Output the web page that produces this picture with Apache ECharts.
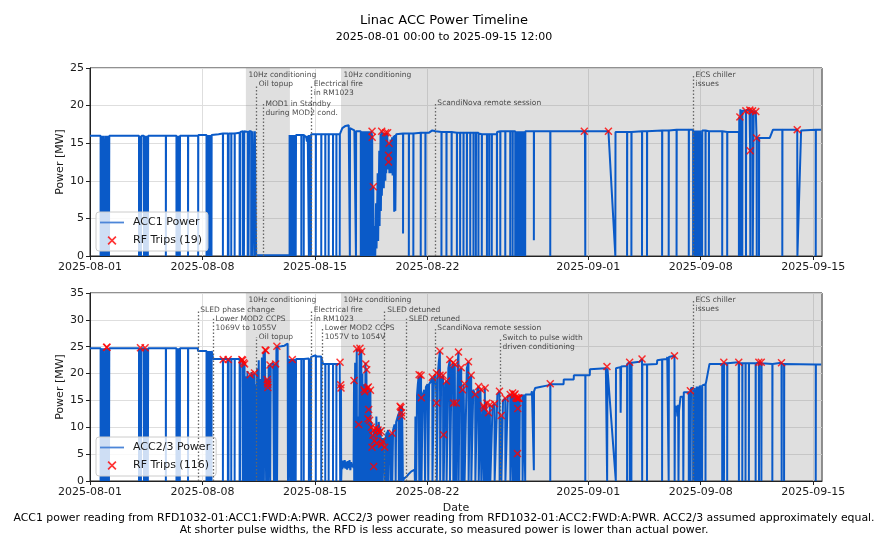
<!DOCTYPE html>
<html><head><meta charset="utf-8">
<script src="https://cdn.jsdelivr.net/npm/echarts@6/dist/echarts.min.js"></script>
<style>html,body{margin:0;padding:0;background:#fff}#c{width:877px;height:534px}</style>
</head><body><div id="c"></div>
<script>
// ---- data (time in days since 2025-08-01 00:00 UTC, power in MW) ----
const startDate = Date.UTC(2025, 7, 1);
const dayMs = 86400000;
const xTickDays = [0, 7, 14, 21, 31, 38, 45];
const xMaxDays = 45.55;
const shadedSpans = [[9.70, 12.44], [15.62, 45.55]];

const acc1Power = [
 [0,16.0],
 [0.66,16.0],[0.66,0],[0.70,16.0],[0.70,0],[0.74,16.0],[0.74,0],[0.78,16.0],[0.78,0],[0.82,16.0],[0.82,0],[0.85,16.0],
 [0.94,16.0],[0.94,0],[0.98,16.0],[0.98,0],[1.02,16.0],[1.02,0],[1.06,16.0],[1.06,0],[1.10,16.0],[1.10,0],[1.14,16.0],[1.14,0],[1.18,16.0],[1.18,0],[1.2,16.0],
 [3.05,16.0],[3.05,0],[3.09,16.0],[3.09,0],[3.13,16.0],[3.13,0],[3.17,16.0],[3.17,0],[3.21,16.0],
 [3.36,16.0],[3.36,0],[3.40,16.0],[3.40,0],[3.44,16.0],[3.44,0],[3.48,16.0],[3.48,0],[3.52,16.0],[3.52,0],[3.56,16.0],[3.56,0],[3.60,16.0],[3.60,0],[3.62,16.0],
 [4.72,16.0],[4.72,0],[4.73,16.0],
 [5.38,16.0],[5.38,0],[5.42,16.0],[5.42,0],[5.46,16.0],[5.46,0],[5.51,16.0],[5.51,0],[5.59,16.0],[5.59,0],[5.60,16.0],
 [6.10,16.0],[6.10,0],[6.11,16.0],
 [6.73,16.0],[6.73,0],[6.74,16.1],
 [7.25,16.1],[7.25,0],[7.30,16.1],[7.30,0],[7.36,16.1],[7.36,0],[7.42,16.1],[7.42,0],[7.50,16.1],[7.50,0],[7.56,16.1],[7.56,0],[7.57,16.1],
 [8.0,16.2],
 [8.27,16.3],[8.27,0],[8.28,16.3],
 [8.58,16.3],[8.58,0],[8.62,16.3],[8.62,0],[8.63,16.3],
 [8.79,16.3],[8.79,0],[8.80,16.3],
 [9.0,16.3],[9.0,0],[9.01,16.3],
 [9.31,16.4],[9.31,0],[9.35,16.4],[9.35,0],[9.36,16.5],
 [9.52,16.6],[9.52,0],[9.58,16.7],[9.58,0],[9.6,16.6],
 [9.82,16.5],[9.82,0],[9.86,16.5],[9.86,0],[9.9,16.6],
 [10.03,16.6],[10.03,0],[10.1,16.6],[10.1,0],[10.12,16.6],
 [10.24,16.6],[10.24,0],[10.26,16.6],
 [10.34,16.6],[10.34,0.1],[12.42,0.1],[12.42,16.1],
 [12.45,16.1],[12.45,0],[12.5,16.1],[12.5,0],[12.55,16.1],[12.55,0],[12.6,16.1],[12.6,0],[12.66,16.1],[12.66,0],[12.72,16.1],[12.72,0],[12.8,16.1],[12.8,0],[12.82,16.1],
 [13.15,16.1],[13.15,0],[13.16,16.1],
 [13.3,16.1],[13.3,0],[13.31,16.1],
 [13.45,15.8],[13.5,15.2],[13.55,16.0],
 [13.62,16.1],[13.62,0],[13.63,16.1],
 [13.75,16.2],[13.75,0],[13.76,16.2],
 [14.05,16.2],[14.05,0],[14.06,16.2],
 [14.39,16.2],[14.39,0],[14.4,16.2],
 [14.64,16.2],[14.64,0],[14.65,16.2],
 [14.85,16.2],[14.85,0],[14.86,16.2],
 [15.12,16.2],[15.12,0],[15.13,16.2],
 [15.33,16.2],[15.33,0],[15.34,16.2],
 [15.54,16.2],[15.54,0],[15.55,16.2],
 [15.62,16.3],[15.7,17.0],[15.8,16.8],[15.9,17.3],[16.0,17.1],[16.1,17.4],
 [16.17,17.2],[16.17,0],[16.18,17.0],
 [16.3,16.9],[16.45,16.7],
 [16.55,16.7],[16.55,0],[16.56,16.6],
 [16.85,16.6],[16.85,0],[16.88,16.6],[16.92,0],[16.95,16.6],[17.0,0],[17.03,16.6],[17.06,0],[17.09,16.6],[17.12,0],[17.15,16.6],[17.18,0],[17.21,16.6],[17.24,0],[17.27,16.6],[17.3,0],[17.33,16.6],[17.36,0],[17.39,16.6],[17.42,0],[17.45,16.6],[17.48,0],
 [17.51,16.6],[17.55,16.6],[17.56,15.8],[17.57,0],[17.63,9.2],[17.64,0],
 [17.72,4],[17.75,0],[17.8,7],[17.83,1],[17.9,11],[17.93,2],[18.0,14],[18.02,4],[18.08,16.3],[18.1,6],[18.15,16.6],[18.16,8],
 [18.25,16.4],[18.28,9],[18.35,16.3],[18.38,10],[18.4,16.4],[18.43,11],[18.5,16.4],[18.52,16.4],[18.53,11.5],[18.57,13.4],[18.58,12.5],[18.6,15.0],[18.61,15.0],[18.63,11],[18.7,15.5],[18.73,11],[18.8,15.8],[18.83,10.7],[18.9,16],[18.93,5.9],[18.97,16.1],[19.0,6],[19.05,16.2],[19.1,16.3],
 [19.48,16.3],[19.48,3],[19.49,16.3],
 [19.84,16.3],[19.84,0],[19.85,16.3],
 [20.12,16.3],[20.12,0],[20.13,16.3],
 [20.58,16.4],[20.58,0],[20.59,16.4],
 [20.87,16.4],[20.87,0],[20.88,16.4],
 [21.1,16.4],[21.3,16.7],[21.5,16.6],
 [21.87,16.5],[21.87,0],[21.88,16.5],
 [22.18,16.5],[22.18,0],[22.19,16.5],
 [22.5,16.5],[22.5,0],[22.51,16.5],
 [22.83,16.4],[22.83,0],[22.84,16.4],
 [23.03,16.4],[23.03,0],[23.04,16.4],
 [23.24,16.4],[23.24,0],[23.25,16.4],
 [23.45,16.4],[23.45,0],[23.46,16.4],
 [23.66,16.4],[23.66,0],[23.67,16.4],
 [23.86,16.4],[23.86,0],[23.87,16.4],
 [24.01,16.4],[24.01,0],[24.02,16.4],
 [24.17,16.4],[24.17,0],[24.18,16.3],
 [24.38,16.2],[24.38,0],[24.39,16.2],
 [24.7,16.2],[24.7,0],[24.71,16.2],
 [24.84,16.2],[24.84,0],[24.85,16.2],
 [25.0,16.2],[25.0,0],[25.01,16.2],
 [25.32,16.2],[25.32,0],[25.33,16.5],
 [25.53,16.6],[25.53,0],[25.54,16.6],
 [25.84,16.6],[25.84,0],[25.85,16.6],
 [26.15,16.6],[26.15,0],[26.16,16.6],
 [26.3,16.6],[26.3,0],[26.31,16.6],
 [26.46,16.6],[26.46,0],[26.47,16.6],
 [26.57,16.6],[26.57,0],[26.58,16.6],
 [26.67,16.6],[26.67,0],[26.68,16.6],
 [26.77,16.6],[26.77,0],[26.78,16.6],
 [26.88,16.6],[26.88,0],[26.89,16.6],
 [26.98,16.6],[26.98,0],[26.99,16.6],
 [27.08,16.6],[27.08,0],[27.09,16.6],
 [27.62,16.6],[27.62,2.1],[27.63,16.6],
 [28.64,16.6],[28.64,0],[28.65,16.6],
 [30.76,16.6],[30.8,16.0],[30.82,0],[30.83,16.6],
 [32.26,16.6],[32.28,16.6],[32.69,0],[32.7,16.5],
 [33.42,16.5],[33.42,0],[33.43,16.5],
 [33.69,16.5],[33.69,0],[33.7,16.5],
 [34.35,16.6],[34.35,0],[34.36,16.6],
 [34.66,16.6],[34.66,0],[34.67,16.6],
 [35.6,16.7],[35.6,0],[35.61,16.7],
 [36.01,16.7],[36.01,0],[36.02,16.7],
 [36.5,16.8],[36.5,0],[36.51,16.8],
 [37.26,16.8],[37.26,0],[37.27,16.8],
 [37.53,16.8],[37.53,0],[37.56,16.7],[37.59,0],[37.62,16.7],[37.65,0],[37.68,16.7],[37.71,0],[37.75,16.7],[37.78,0],[37.82,16.7],[37.85,0],[37.88,16.7],[37.91,0],[37.95,16.7],[37.96,0],[37.97,16.7],
 [38.09,16.7],[38.09,0],[38.1,16.7],
 [38.3,16.7],[38.3,0],[38.31,16.7],
 [38.51,16.6],[38.51,0],[38.52,16.6],
 [39.34,16.6],[39.34,0],[39.35,16.6],
 [39.65,16.5],[39.65,0],[39.66,16.5],
 [40.38,16.5],[40.38,0],[40.40,18.5],[40.44,18.5],[40.45,0],[40.47,19.5],[40.55,19.5],[40.55,0],[40.56,19.4],[40.59,19.4],[40.59,0],[40.6,19.3],[40.81,19.3],[40.82,0],[40.83,19.4],[41.04,19.4],[41.06,19.4],[41.08,14.0],[41.09,0],[41.1,19.4],[41.23,19.3],[41.24,0],[41.3,19.2],[41.43,19.2],[41.46,19.2],[41.48,15.7],[41.49,0],[41.5,15.7],
 [41.63,15.7],[41.63,0],[41.64,15.7],
 [42.3,15.7],[42.5,16.8],
 [43.08,16.8],[43.08,0],[43.09,16.8],
 [44.01,16.8],[44.02,0],[44.25,16.7],
 [45.16,16.8],[45.16,0],[45.17,16.8],
 [45.5,16.8]
];

const acc1Trips = [
 [17.55,16.6],[17.56,15.8],[17.63,9.2],[18.15,16.6],[18.40,16.4],[18.52,16.4],[18.61,15.0],[18.57,13.4],[18.58,12.5],
 [30.76,16.6],[32.26,16.6],[40.44,18.5],[40.81,19.3],[41.06,19.4],[41.23,19.3],[41.43,19.2],[41.48,15.7],[41.08,14.0],[44.01,16.8]
];

const acc23Power = [
 [0,24.7],
 [0.66,24.7],[0.66,0],[0.70,24.7],[0.70,0],[0.74,24.7],[0.74,0],[0.78,24.7],[0.78,0],[0.82,24.7],[0.82,0],[0.85,24.7],
 [0.94,24.7],[0.94,0],[0.98,24.7],[0.98,0],[1.02,24.7],[1.02,0],[1.06,24.7],[1.06,0],[1.10,24.7],[1.10,0],[1.14,24.7],[1.14,0],[1.18,24.7],[1.18,0],[1.2,24.7],
 [3.05,24.7],[3.05,0],[3.09,24.7],[3.09,0],[3.13,24.7],[3.13,0],[3.17,24.7],[3.17,0],[3.21,24.7],
 [3.36,24.7],[3.36,0],[3.40,24.7],[3.40,0],[3.44,24.7],[3.44,0],[3.48,24.7],[3.48,0],[3.52,24.7],[3.52,0],[3.56,24.7],[3.56,0],[3.60,24.7],[3.60,0],[3.62,24.7],
 [4.72,24.7],[4.72,0],[4.73,24.7],
 [5.38,24.7],[5.38,0],[5.42,24.7],[5.42,0],[5.46,24.7],[5.46,0],[5.51,24.7],[5.51,0],[5.59,24.7],[5.59,0],[5.60,24.7],
 [6.10,24.7],[6.10,0],[6.11,24.7],
 [6.71,24.7],[6.72,24.2],
 [7.25,24.2],[7.25,0],[7.30,24.2],[7.30,0],[7.36,24.2],[7.36,0],[7.42,24.2],[7.42,0],[7.50,24.2],[7.50,0],[7.56,24.2],[7.56,0],[7.57,24.2],
 [7.66,24.2],[7.67,22.7],
 [8.27,22.7],[8.27,0],[8.28,22.7],
 [8.58,22.7],[8.58,0],[8.62,22.7],[8.62,0],[8.63,22.7],
 [8.79,22.7],[8.79,0],[8.80,22.7],
 [9.0,22.7],[9.0,0],[9.01,22.7],
 [9.31,22.7],[9.31,0],[9.35,22.7],[9.35,0],[9.36,22.7],
 [9.5,22.5],[9.52,0],[9.55,22.0],[9.58,0],[9.62,21.8],[9.63,0],
 [9.72,19.5],[9.74,0],[9.8,20.5],[9.82,0],[9.9,19.5],[9.92,0],[9.97,19.8],[9.98,0],[10.05,20.3],[10.07,0],[10.15,20.0],[10.17,0],[10.24,20.1],[10.25,0],[10.3,18],[10.32,0],
 [10.4,21],[10.42,0],[10.5,22.5],[10.52,0],[10.6,19],[10.62,0],[10.7,23],[10.72,0],[10.8,24],[10.82,0],[10.88,24.5],[10.95,24.3],[10.96,0],[11.0,19],[11.03,18.9],[11.04,0],[11.05,18.4],[11.06,0],[11.06,18.0],[11.07,17.4],[11.08,0],[11.12,21.6],[11.2,21.6],[11.21,0],[11.25,21.8],[11.4,21.9],[11.45,0],[11.47,21.8],[11.55,21.8],[11.56,0],[11.6,25.0],[11.63,25.1],[11.64,0],[11.68,25.0],[11.9,25.1],[12.0,25.3],[12.1,25.2],[12.2,25.4],[12.3,25.6],[12.32,0],[12.42,0],
 [12.42,22.7],
 [12.45,22.7],[12.45,0],[12.5,22.7],[12.5,0],[12.55,22.7],[12.55,0],[12.59,22.6],[12.6,0],[12.66,22.7],[12.66,0],[12.72,22.7],[12.72,0],[12.8,22.7],[12.8,0],[12.82,22.7],
 [13.15,22.7],[13.15,0],[13.16,22.7],
 [13.3,22.7],[13.3,0],[13.31,22.7],
 [13.62,22.8],[13.62,0],[13.63,22.8],
 [13.75,22.8],[13.75,0],[13.76,23.1],
 [14.05,23.4],[14.05,0],[14.06,23.2],
 [14.39,23.2],[14.39,0],[14.4,23.0],
 [14.5,21.8],
 [14.64,21.8],[14.64,0],[14.65,21.8],
 [14.85,21.8],[14.85,0],[14.86,21.8],
 [15.12,21.8],[15.12,0],[15.13,21.8],
 [15.33,21.8],[15.33,0],[15.34,21.8],
 [15.54,21.8],[15.56,22.1],[15.57,0],[15.6,17.9],[15.61,0],[15.62,17.3],[15.63,0],
 [15.66,3.5],[15.7,2.2],[15.75,3.8],[15.8,2.5],[15.85,3.9],[15.9,2.3],[15.95,3.6],[16.0,2.1],[16.05,3.7],[16.1,2.4],[16.15,3.9],[16.2,2.0],[16.25,3.5],[16.3,2.6],[16.35,3.2],[16.4,2.4],
 [16.43,18.7],[16.44,0],[16.5,22],[16.52,0],[16.6,24.6],[16.61,0],[16.65,12],[16.72,10.5],[16.73,0],[16.78,24.5],[16.8,24.7],[16.81,0],[16.88,24.3],[16.9,24.1],[16.91,0],[16.95,20],[16.97,0],[17.03,18],[17.05,17.0],[17.06,0],[17.1,16.6],[17.11,0],[17.14,22],[17.16,21.8],[17.17,0],[17.2,21],[17.22,20.7],[17.23,0],[17.25,17.3],[17.26,0],[17.28,11.6],[17.3,11.6],[17.31,0],[17.32,17.5],[17.34,13.3],[17.35,0],[17.38,12],[17.4,11.3],[17.41,0],[17.45,16.9],[17.46,0],[17.5,11],[17.51,10.0],[17.52,0],[17.55,6.3],[17.56,0],[17.6,8.5],[17.61,0],[17.65,2.7],[17.66,9.4],[17.67,0],[17.7,7.5],[17.71,0],[17.76,9.8],[17.77,0],[17.82,12],[17.85,7.0],[17.86,0],[17.9,10],[17.92,9.5],[17.93,0],[17.97,11],[18.0,9.0],[18.01,0],[18.05,10],[18.09,9.3],[18.1,0],[18.13,6.8],[18.14,0],[18.17,8],[18.2,7.4],[18.21,0],[18.27,8],[18.34,6.3],[18.35,0],[18.4,8],[18.45,9],[18.46,0],[18.5,9],[18.55,9.5],[18.57,0],[18.62,9],[18.7,8.5],[18.72,0],[18.76,8.8],[18.8,8.9],[18.81,0],[18.86,9.5],[18.95,10.5],[19.0,10],[19.02,0],[19.05,11],[19.15,12],[19.2,12.5],[19.22,0],[19.25,13],[19.3,13.9],[19.31,0],[19.33,13.7],[19.35,13.7],[19.36,0],[19.37,12.7],[19.38,12.7],[19.39,0],[19.4,12.1],[19.42,14],[19.45,14.3],[19.47,0],
 [19.55,0.5],[19.7,0.8],[19.8,1.2],[19.9,1.5],[20.0,1.8],[20.1,2.0],[20.2,2.1],[20.22,0],
 [20.25,12],[20.3,0],[20.35,16],[20.4,18],[20.45,19.5],[20.48,19.8],[20.49,0],[20.55,19],[20.6,19.7],[20.61,0],[20.62,15.5],[20.63,0],[20.7,16],[20.8,17],[20.85,0],[20.9,17.5],[21.0,18],[21.05,0],[21.1,18],[21.2,18.5],[21.3,19.3],[21.31,0],[21.4,19],[21.5,19.8],[21.56,20.1],[21.57,14.5],[21.58,0],[21.65,20],[21.7,22],[21.77,24.2],[21.78,19.7],[21.79,0],[21.85,19],[21.97,19.7],[21.98,0],[22.0,8.6],[22.01,0],[22.1,18],[22.18,18.6],[22.19,0],[22.3,21],[22.39,22.6],[22.4,0],[22.5,21],[22.6,22.0],[22.61,0],[22.62,14.5],[22.63,0],[22.7,21.7],[22.72,21.7],[22.73,0],[22.77,14.5],[22.79,14.5],[22.8,0],[22.88,22],[22.93,24.0],[22.94,0],[23.0,20],[23.1,21.1],[23.11,0],[23.15,17],[23.18,17.0],[23.19,0],[23.25,18],[23.3,18.1],[23.31,0],[23.45,21],[23.55,22.2],[23.56,0],[23.65,19],[23.72,19.7],[23.73,0],[23.85,17],[23.97,16.1],[23.98,0],[24.1,17],[24.18,17.6],[24.19,0],[24.3,17],[24.34,17.0],[24.35,0],[24.45,14],[24.49,14.0],[24.5,0],[24.53,13.6],[24.54,0],[24.57,17.3],[24.59,17.3],[24.6,0],[24.65,14.5],[24.7,14.5],[24.71,0],[24.78,12.7],[24.8,12.7],[24.81,0],[24.88,14.2],[24.9,14.2],[24.91,0],[25.05,14],[25.17,14.4],[25.18,0],[25.35,16],[25.48,16.7],[25.49,0],[25.55,12],[25.59,12.2],[25.6,0],[25.7,15],[25.84,15.4],[25.85,0],[26.0,15.8],[26.15,16.1],[26.16,0],[26.25,16.2],[26.3,16.4],[26.31,0],[26.35,16],[26.4,16.0],[26.41,0],[26.45,16.2],[26.46,0],[26.5,15.6],[26.51,0],[26.55,15.4],[26.56,0],[26.6,15.4],[26.6,5.1],[26.61,0],[26.62,13.5],[26.63,0],[26.67,15.4],[26.68,0],[26.7,15.4],[26.71,0],
 [26.75,15.8],[26.9,16.0],[26.92,0],[27.0,16.1],[27.08,16.1],[27.08,0],[27.1,16.1],[27.45,16.1],[27.5,16.7],[27.62,16.7],[27.62,2],[27.63,16.7],[27.7,17.3],[28.0,17.5],[28.5,17.8],[28.64,18.1],[28.64,0],[28.65,18.0],[29.47,18.0],[29.48,18.9],[30.1,18.9],[30.11,19.7],[30.82,19.7],[30.82,0],[30.83,19.7],[31.1,19.7],[31.11,20.8],[32.1,21.0],[32.17,21.3],[32.18,0],[32.2,21.0],[32.31,21.0],[32.72,0],[32.73,21.0],
 [33.0,21.2],[33.02,12.7],[33.05,21.3],[33.42,21.4],[33.42,0],[33.43,21.8],[33.58,22.1],[33.59,0],[33.6,22.0],[33.69,22.0],[33.69,0],[33.7,22.0],[34.2,22.2],[34.35,22.7],[34.36,0],[34.37,21.7],[34.66,21.7],[34.66,0],[34.67,21.7],[35.28,21.8],[35.3,22.5],[35.6,22.6],[35.6,0],[35.61,22.6],[35.9,22.7],[35.92,23.1],[36.01,23.1],[36.01,0],[36.02,23.1],[36.37,23.3],[36.38,0],
 [36.4,13],[36.5,14],[36.55,12],[36.6,14.2],[36.62,0],[36.65,13],[36.75,15.7],[36.9,15.7],[36.92,0],[36.95,16.5],[37.26,16.5],[37.26,0],[37.27,16.6],[37.36,16.8],[37.37,0],[37.4,17.3],[37.53,17.3],[37.53,0],[37.56,17.3],[37.59,0],[37.62,17.3],[37.65,0],[37.68,17.0],[37.71,0],[37.75,17.6],[37.78,0],[37.82,17.6],[37.85,0],[37.88,17.6],[37.91,0],[37.95,17.8],[37.96,0],[37.97,17.8],[38.09,17.8],[38.09,0],[38.1,17.8],[38.3,18.0],[38.3,0],[38.31,18.0],[38.35,18.6],[38.42,18.6],[38.55,21.8],
 [39.34,21.8],[39.34,0],[39.35,21.9],[39.44,22.1],[39.45,0],[39.46,21.9],[39.65,21.9],[39.65,0],[39.66,21.9],[40.37,22.1],[40.38,0],[40.39,21.9],[40.59,21.9],[40.59,0],[40.6,21.9],[40.79,21.9],[40.79,0],[40.8,21.9],[41.0,21.9],[41.0,0],[41.01,21.9],[41.42,21.9],[41.42,0],[41.43,21.9],[41.62,22.1],[41.63,0],[41.64,21.9],[41.77,22.1],[41.78,0],[41.79,21.9],[42.46,21.8],[42.46,0],[42.47,21.8],[43.03,22.0],[43.04,0],[43.05,21.8],[43.19,21.8],[43.19,0],[43.2,21.8],[45.16,21.7],[45.16,0],[45.17,21.7],[45.5,21.7]
];

const acc23Trips = [
 [1.03,24.9],[1.06,24.9],[3.14,24.8],[3.43,24.8],[8.29,22.6],[8.60,22.6],[9.45,22.6],[9.50,22.5],[9.55,22.0],[9.62,21.8],
 [9.97,19.8],[10.24,20.1],[10.9,24.4],[10.95,24.3],[11.03,18.9],[11.05,18.4],[11.06,18.0],[11.07,17.4],[11.2,21.6],[11.55,21.8],
 [11.63,25.1],[12.59,22.6],[15.56,22.1],[15.6,17.9],[15.62,17.3],[16.43,18.7],[16.6,24.6],[16.72,10.5],[16.8,24.7],[16.9,24.1],
 [17.05,17.0],[17.1,16.6],[17.16,21.8],[17.22,20.7],[17.25,17.3],[17.32,17.5],[17.34,13.3],[17.3,11.6],[17.4,11.3],[17.45,16.9],
 [17.51,10.0],[17.55,6.3],[17.6,8.5],[17.65,2.7],[17.66,9.4],[17.7,7.5],[17.76,9.8],[17.85,7.0],[17.92,9.5],[18.0,9.0],
 [18.09,9.3],[18.13,6.8],[18.2,7.4],[18.34,6.3],[18.8,8.9],[19.30,13.9],[19.35,13.7],[19.38,12.7],[19.4,12.1],[20.48,19.8],
 [20.6,19.7],[20.62,15.5],[21.3,19.3],[21.56,20.1],[21.57,14.5],[21.77,24.2],[21.78,19.7],[21.97,19.7],[22.0,8.6],[22.18,18.6],
 [22.39,22.6],[22.6,22.0],[22.62,14.5],[22.72,21.7],[22.79,14.5],[22.93,24.0],[23.1,21.1],[23.18,17.0],[23.3,18.1],[23.55,22.2],
 [23.72,19.7],[23.97,16.1],[24.18,17.6],[24.34,17.0],[24.49,14.0],[24.53,13.6],[24.59,17.3],[24.7,14.5],[24.8,12.7],[24.9,14.2],
 [25.17,14.4],[25.48,16.7],[25.59,12.2],[25.84,15.4],[26.15,16.1],[26.3,16.4],[26.4,16.0],[26.45,16.2],[26.5,15.6],[26.55,15.4],
 [26.6,15.4],[26.62,13.5],[26.6,5.1],[26.67,15.4],[26.7,15.4],[28.64,18.1],[32.17,21.3],[33.58,22.1],[34.35,22.7],[36.37,23.3],
 [37.36,16.8],[39.44,22.1],[40.37,22.1],[41.62,22.1],[41.77,22.1],[43.03,22.0]
];

// annotations: [day, MW (text anchor / dotted line top), text, has dotted line]
const acc1Notes = [
 [9.70, 24.1, '10Hz conditioning', false],
 [15.62, 24.1, '10Hz conditioning', false],
 [10.34, 22.8, 'Oil topup', true],
 [10.76, 20.2, 'MOD1 in Standby\nduring MOD2 cond.', true],
 [13.77, 22.8, 'Electrical fire\nin RM1023', true],
 [21.46, 20.3, 'ScandiNova remote session', true],
 [37.53, 24.0, 'ECS chiller\nissues', true]
];
const acc23Notes = [
 [9.70, 33.7, '10Hz conditioning', false],
 [15.62, 33.7, '10Hz conditioning', false],
 [6.71, 31.9, 'SLED phase change', true],
 [7.66, 30.2, 'Lower MOD2 CCPS\n1069V to 1055V', true],
 [10.34, 26.8, 'Oil topup', true],
 [13.77, 31.9, 'Electrical fire\nin RM1023', true],
 [14.45, 28.4, 'Lower MOD2 CCPS\n1057V to 1054V', true],
 [18.34, 31.9, 'SLED detuned', true],
 [19.69, 30.2, 'SLED retuned', true],
 [21.46, 28.4, 'ScandiNova remote session', true],
 [25.51, 26.7, 'Switch to pulse width\ndriven conditioning', true],
 [37.53, 33.7, 'ECS chiller\nissues', true]
];

const titleText = 'Linac ACC Power Timeline';
const subtitleText = '2025-08-01 00:00 to 2025-09-15 12:00';
const footerText = 'ACC1 power reading from RFD1032-01:ACC1:FWD:A:PWR. ACC2/3 power reading from RFD1032-01:ACC2:FWD:A:PWR. ACC2/3 assumed approximately equal.\nAt shorter pulse widths, the RFD is less accurate, so measured power is lower than actual power.';

// ---- chart ----
const FONT = 'DejaVu Sans';
const BLUE = '#0a5ac8';
const pad = n => (n < 10 ? '0' : '') + n;
const fmtDay = d => { const dt = new Date(startDate + d * dayMs); return dt.getUTCFullYear() + '-' + pad(dt.getUTCMonth() + 1) + '-' + pad(dt.getUTCDate()); };
const xMarkPath = 'path://M0,1.3L1.3,0L5,3.7L8.7,0L10,1.3L6.3,5L10,8.7L8.7,10L5,6.3L1.3,10L0,8.7L3.7,5Z';
const lineIconPath = 'path://M0,0L24,0L24,1.8L0,1.8Z';

function xAxisCfg(gi, withName) {
  return {
    type: 'value', gridIndex: gi, min: 0, max: xMaxDays,
    axisLine: { show: true, onZero: false, lineStyle: { color: '#222', width: 1 } },
    axisTick: { show: true, length: 4, lineStyle: { color: '#222' }, customValues: xTickDays },
    axisLabel: { customValues: xTickDays, formatter: v => fmtDay(v), fontFamily: FONT, fontSize: 11, color: '#1a1a1a', margin: 6 },
    splitLine: { show: true, lineStyle: { color: '#dedede', width: 1 } },
    name: withName ? 'Date' : '', nameLocation: 'middle', nameGap: 22,
    nameTextStyle: { fontFamily: FONT, fontSize: 11, color: '#1a1a1a' }
  };
}
function yAxisCfg(gi, max) {
  return {
    type: 'value', gridIndex: gi, min: 0, max: max, interval: 5,
    axisLine: { show: true, lineStyle: { color: '#222', width: 1 } },
    axisTick: { show: true, length: 4, lineStyle: { color: '#222' } },
    axisLabel: { fontFamily: FONT, fontSize: 11, color: '#1a1a1a', margin: 6 },
    splitLine: { show: true, lineStyle: { color: '#dedede', width: 1 } },
    name: 'Power [MW]', nameLocation: 'middle', nameGap: 24, nameMoveOverlap: false,
    nameTextStyle: { fontFamily: FONT, fontSize: 11, color: '#1a1a1a' }
  };
}
function noteSeries(notes, gi) {
  return {
    type: 'scatter', xAxisIndex: gi, yAxisIndex: gi, silent: true, z: 6,
    symbolSize: 0.01, itemStyle: { color: 'rgba(0,0,0,0)' },
    data: notes.map(n => [n[0], n[1], n[2]]),
    label: {
      show: true, position: 'right', distance: 2.5, formatter: p => p.data[2],
      fontFamily: FONT, fontSize: 7.5, lineHeight: 9, color: '#222',
      verticalAlign: 'top', offset: [0, -4.5]
    },
    markLine: {
      silent: true, symbol: ['none', 'none'], animation: false,
      label: { show: false },
      lineStyle: { type: [1.5, 2], color: '#666', width: 1.3 },
      data: notes.filter(n => n[3]).map(n => [{ coord: [n[0], 0] }, { coord: [n[0], n[1]] }])
    },
    markArea: {
      silent: true,
      itemStyle: { color: 'rgba(128,128,128,0.25)' },
      data: shadedSpans.map(s => [{ xAxis: s[0] }, { xAxis: s[1] }])
    }
  };
}
function legendCfg(lineName, tripName, top) {
  return {
    orient: 'vertical', left: 96, top: top,
    data: [
      { name: lineName, icon: lineIconPath, itemStyle: { color: '#4d86d8' } },
      { name: tripName }
    ],
    backgroundColor: 'rgba(255,255,255,0.8)', borderColor: '#cccccc', borderWidth: 1, borderRadius: 3,
    padding: [5, 6, 5, 4], itemGap: 7, itemWidth: 24, itemHeight: 9,
    textStyle: { fontFamily: FONT, fontSize: 11, color: '#1a1a1a', padding: [0, 0, 0, 4] }
  };
}

const chart = echarts.init(document.getElementById('c'), null, { renderer: 'canvas' });
chart.setOption({
  animation: false,
  backgroundColor: '#ffffff',
  textStyle: { fontFamily: FONT },
  title: [
    { text: titleText, left: 439, textAlign: 'center', top: 9, textStyle: { fontFamily: FONT, fontSize: 13, fontWeight: 'normal', color: '#000' } },
    { text: subtitleText, left: 439, textAlign: 'center', top: 27, textStyle: { fontFamily: FONT, fontSize: 11, fontWeight: 'normal', color: '#000' } },
    { text: footerText, left: 439, textAlign: 'center', top: 507, textStyle: { fontFamily: FONT, fontSize: 10.9, lineHeight: 12, fontWeight: 'normal', color: '#000' } }
  ],
  legend: [
    legendCfg('ACC1 Power', 'RF Trips (' + acc1Trips.length + ')', 212),
    legendCfg('ACC2/3 Power', 'RF Trips (' + acc23Trips.length + ')', 437)
  ],
  grid: [
    { left: 90, top: 68, width: 732, height: 188, show: true, borderColor: '#222', borderWidth: 1, backgroundColor: 'transparent' },
    { left: 90, top: 293, width: 732, height: 188, show: true, borderColor: '#222', borderWidth: 1, backgroundColor: 'transparent' }
  ],
  xAxis: [xAxisCfg(0, false), xAxisCfg(1, true)],
  yAxis: [yAxisCfg(0, 25), yAxisCfg(1, 35)],
  series: [
    noteSeries(acc1Notes, 0),
    { name: 'ACC1 Power', type: 'line', xAxisIndex: 0, yAxisIndex: 0, data: acc1Power, showSymbol: false, symbol: 'none', z: 3,
      lineStyle: { color: BLUE, width: 2 }, itemStyle: { color: BLUE } },
    { name: 'RF Trips (' + acc1Trips.length + ')', type: 'scatter', xAxisIndex: 0, yAxisIndex: 0, data: acc1Trips, symbol: xMarkPath, symbolSize: 8, z: 5,
      itemStyle: { color: '#ff0000' } },
    noteSeries(acc23Notes, 1),
    { name: 'ACC2/3 Power', type: 'line', xAxisIndex: 1, yAxisIndex: 1, data: acc23Power, showSymbol: false, symbol: 'none', z: 3,
      lineStyle: { color: BLUE, width: 2 }, itemStyle: { color: BLUE } },
    { name: 'RF Trips (' + acc23Trips.length + ')', type: 'scatter', xAxisIndex: 1, yAxisIndex: 1, data: acc23Trips, symbol: xMarkPath, symbolSize: 8, z: 5,
      itemStyle: { color: '#ff0000' } }
  ]
});
</script>
</body></html>
